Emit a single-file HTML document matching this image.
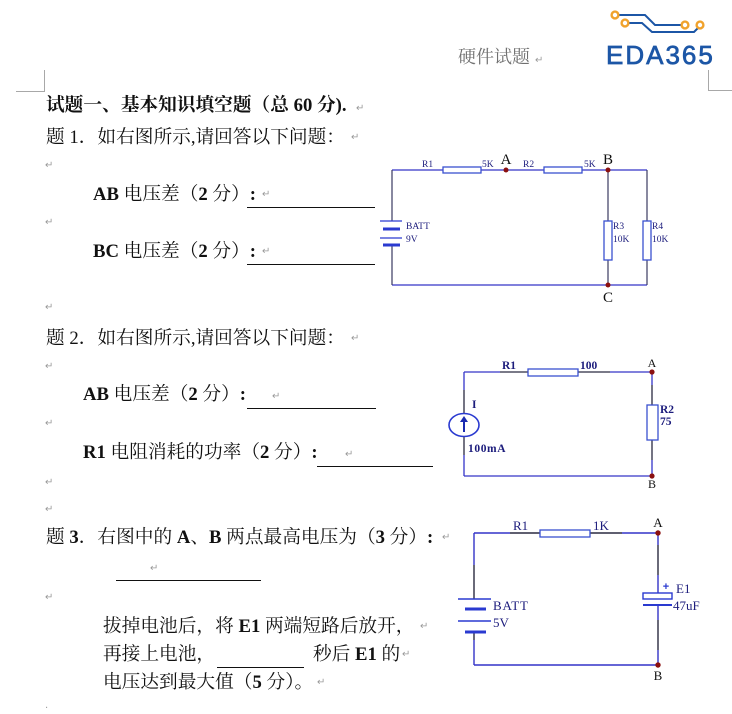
<!DOCTYPE html>
<html><head><meta charset="utf-8">
<style>
html,body{margin:0;padding:0;background:#fff;}
body{width:732px;height:711px;position:relative;overflow:hidden;font-family:"Liberation Serif","Noto Serif CJK SC",serif;color:#111;}
.t{position:absolute;white-space:pre;font-size:18.7px;line-height:18.7px;}
.b{font-weight:bold;}
.r{position:absolute;font-family:"DejaVu Sans",sans-serif;font-size:10px;line-height:10px;color:#9a9a9a;}
.u{position:absolute;height:1px;background:#111;}
svg{position:absolute;left:0;top:0;}
</style></head><body>

<svg width="732" height="711" viewBox="0 0 732 711" xmlns="http://www.w3.org/2000/svg">
  <!-- corner marks -->
  <g stroke="#a8a8a8" stroke-width="1" fill="none">
    <polyline points="44.5,70 44.5,91.5 16,91.5"/>
    <polyline points="708.5,70 708.5,90.5 732,90.5"/>
  </g>
  <!-- logo -->
  <g fill="none" stroke="#1c56a6" stroke-width="2">
    <polyline points="619,15 645,15 655,25 681,25"/>
    <polyline points="629,23 642,23 652,32 694,32 698,28"/>
  </g>
  <g fill="#fff" stroke="#f0a22c" stroke-width="2.4">
    <circle cx="615" cy="15" r="3.4"/>
    <circle cx="625" cy="23" r="3.4"/>
    <circle cx="685" cy="25" r="3.4"/>
    <circle cx="700" cy="25" r="3.4"/>
  </g>
  <text x="606" y="64" font-family="Liberation Sans, sans-serif" font-size="26" letter-spacing="2" fill="#1c56a6" stroke="#1c56a6" stroke-width="0.7">EDA365</text>

  <!-- Circuit 1 -->
  <g stroke="#3434c8" stroke-width="1.2" fill="none">
    <line x1="392" y1="170" x2="443" y2="170"/>
    <line x1="481" y1="170" x2="544" y2="170"/>
    <line x1="582" y1="170" x2="647" y2="170"/>
    <line x1="392" y1="285" x2="647" y2="285"/>
  </g>
  <g stroke="#3a3a60" stroke-width="1.2" fill="none">
    <line x1="392" y1="170" x2="392" y2="221"/>
    <line x1="392" y1="245" x2="392" y2="285"/>
    <line x1="608" y1="170" x2="608" y2="221"/>
    <line x1="608" y1="260" x2="608" y2="285"/>
    <line x1="647" y1="170" x2="647" y2="221"/>
    <line x1="647" y1="260" x2="647" y2="285"/>
  </g>
  <g stroke="#3a50d0" stroke-width="1.3" fill="#fff">
    <rect x="443" y="167" width="38" height="6"/>
    <rect x="544" y="167" width="38" height="6"/>
    <rect x="604" y="221" width="8" height="39"/>
    <rect x="643" y="221" width="8" height="39"/>
  </g>
  <g stroke="#2a3ad0" fill="none">
    <line x1="380" y1="221" x2="402" y2="221" stroke-width="1.3"/>
    <line x1="383" y1="229" x2="400" y2="229" stroke-width="3"/>
    <line x1="380" y1="238" x2="402" y2="238" stroke-width="1.3"/>
    <line x1="383" y1="245" x2="400" y2="245" stroke-width="3"/>
  </g>
  <g fill="#8b1010">
    <circle cx="506" cy="170" r="2.5"/>
    <circle cx="608" cy="170" r="2.5"/>
    <circle cx="608" cy="285" r="2.5"/>
  </g>
  <g font-family="Liberation Serif, serif" font-size="9.5" fill="#1c1c7c">
    <text x="422" y="167">R1</text>
    <text x="482" y="167">5K</text>
    <text x="523" y="167">R2</text>
    <text x="584" y="167">5K</text>
    <text x="406" y="229">BATT</text>
    <text x="406" y="242">9V</text>
    <text x="613" y="229">R3</text>
    <text x="613" y="242">10K</text>
    <text x="652" y="229">R4</text>
    <text x="652" y="242">10K</text>
  </g>
  <g font-family="Liberation Serif, serif" font-size="15" fill="#111" text-anchor="middle">
    <text x="506" y="164">A</text>
    <text x="608" y="164">B</text>
    <text x="608" y="302">C</text>
  </g>

  <!-- Circuit 2 -->
  <g stroke="#3434c8" stroke-width="1.3" fill="none">
    <line x1="464" y1="372" x2="500" y2="372"/>
    <line x1="610" y1="372" x2="652" y2="372"/>
    <line x1="464" y1="476" x2="652" y2="476"/>
    <line x1="464" y1="372" x2="464" y2="390"/>
    <line x1="464" y1="455" x2="464" y2="476"/>
    <line x1="652" y1="372" x2="652" y2="385"/>
    <line x1="652" y1="460" x2="652" y2="476"/>
  </g>
  <g stroke="#2a2a40" stroke-width="1.3" fill="none">
    <line x1="500" y1="372" x2="528" y2="372"/>
    <line x1="578" y1="372" x2="610" y2="372"/>
    <line x1="464" y1="390" x2="464" y2="413"/>
    <line x1="464" y1="437" x2="464" y2="455"/>
    <line x1="652" y1="385" x2="652" y2="405"/>
    <line x1="652" y1="440" x2="652" y2="460"/>
  </g>
  <g stroke="#3a50d0" stroke-width="1.3" fill="#fff">
    <rect x="528" y="369" width="50" height="7"/>
    <rect x="647" y="405" width="11" height="35"/>
  </g>
  <ellipse cx="464" cy="425" rx="15" ry="11.5" fill="none" stroke="#2a3ad0" stroke-width="1.6"/>
  <line x1="464" y1="432" x2="464" y2="421" stroke="#1a2ab0" stroke-width="2"/>
  <polygon points="464,416 460,422 468,422" fill="#1a2ab0"/>
  <g fill="#8b1010">
    <circle cx="652" cy="372" r="2.6"/>
    <circle cx="652" cy="476" r="2.6"/>
  </g>
  <g font-family="Liberation Serif, serif" font-size="11.5" font-weight="bold" fill="#1c1c7c">
    <text x="502" y="369">R1</text>
    <text x="580" y="369">100</text>
    <text x="472" y="408">I</text>
    <text x="468" y="452" letter-spacing="0.6">100mA</text>
    <text x="660" y="413">R2</text>
    <text x="660" y="425">75</text>
  </g>
  <g font-family="Liberation Serif, serif" font-size="12" fill="#111" text-anchor="middle">
    <text x="652" y="367">A</text>
    <text x="652" y="488">B</text>
  </g>

  <!-- Circuit 3 -->
  <g stroke="#3434c8" stroke-width="1.4" fill="none">
    <line x1="474" y1="533" x2="510" y2="533"/>
    <line x1="622" y1="533" x2="658" y2="533"/>
    <line x1="474" y1="665" x2="658" y2="665"/>
    <line x1="474" y1="533" x2="474" y2="565"/>
    <line x1="474" y1="640" x2="474" y2="665"/>
    <line x1="658" y1="533" x2="658" y2="545"/>
    <line x1="658" y1="575" x2="658" y2="593"/>
    <line x1="658" y1="605" x2="658" y2="620"/>
    <line x1="658" y1="650" x2="658" y2="665"/>
  </g>
  <g stroke="#2a2a40" stroke-width="1.4" fill="none">
    <line x1="510" y1="533" x2="540" y2="533"/>
    <line x1="590" y1="533" x2="622" y2="533"/>
    <line x1="474" y1="565" x2="474" y2="599"/>
    <line x1="474" y1="632" x2="474" y2="640"/>
    <line x1="658" y1="545" x2="658" y2="575"/>
    <line x1="658" y1="620" x2="658" y2="650"/>
  </g>
  <rect x="540" y="530" width="50" height="7" stroke="#3a50d0" stroke-width="1.3" fill="#fff"/>
  <g stroke="#2a3ad0" fill="none">
    <line x1="458" y1="599" x2="491" y2="599" stroke-width="1.4"/>
    <line x1="465" y1="609" x2="486" y2="609" stroke-width="3"/>
    <line x1="458" y1="621" x2="491" y2="621" stroke-width="1.4"/>
    <line x1="465" y1="632" x2="486" y2="632" stroke-width="3"/>
    <line x1="643" y1="605" x2="672" y2="605" stroke-width="2"/>
  </g>
  <rect x="643" y="593" width="29" height="6" stroke="#2a3ad0" stroke-width="1.4" fill="#fff"/>
  <text x="666" y="590" font-family="Liberation Sans, sans-serif" font-size="11" font-weight="bold" fill="#2a3ad0" text-anchor="middle">+</text>
  <g fill="#8b1010">
    <circle cx="658" cy="533" r="2.7"/>
    <circle cx="658" cy="665" r="2.7"/>
  </g>
  <g font-family="Liberation Serif, serif" font-size="13" fill="#1c1c7c">
    <text x="513" y="530">R1</text>
    <text x="593" y="530">1K</text>
    <text x="493" y="610" letter-spacing="0.8">BATT</text>
    <text x="493" y="627">5V</text>
    <text x="676" y="593">E1</text>
    <text x="673" y="610">47uF</text>
  </g>
  <g font-family="Liberation Serif, serif" font-size="13" fill="#111" text-anchor="middle">
    <text x="658" y="527">A</text>
    <text x="658" y="680">B</text>
  </g>
</svg>

<!-- header -->
<div class="t" style="left:458px;top:48px;color:#707070;font-size:18px;line-height:18px;">硬件试题</div>
<div class="r" style="left:535px;top:56px;">↵</div>

<!-- text -->
<div class="t b" style="left:46px;top:97px;">试题一、基本知识填空题（总 60 分).</div>
<div class="r" style="left:356px;top:104px;">↵</div>

<div class="t" style="left:46px;top:129px;">题 1．如右图所示,请回答以下问题：</div>
<div class="r" style="left:351px;top:133px;">↵</div>
<div class="r" style="left:45px;top:161px;">↵</div>

<div class="t" style="left:93px;top:186px;"><span class="b">AB</span> 电压差（<span class="b">2</span> 分）<span class="b">:</span></div>
<div class="r" style="left:262px;top:190px;">↵</div>
<div class="u" style="left:247px;top:207px;width:128px;"></div>
<div class="r" style="left:45px;top:218px;">↵</div>

<div class="t" style="left:93px;top:243px;"><span class="b">BC</span> 电压差（<span class="b">2</span> 分）<span class="b">:</span></div>
<div class="r" style="left:262px;top:247px;">↵</div>
<div class="u" style="left:247px;top:264px;width:128px;"></div>
<div class="r" style="left:45px;top:303px;">↵</div>

<div class="t" style="left:46px;top:330px;">题 2．如右图所示,请回答以下问题：</div>
<div class="r" style="left:351px;top:334px;">↵</div>
<div class="r" style="left:45px;top:362px;">↵</div>

<div class="t" style="left:83px;top:386px;"><span class="b">AB</span> 电压差（<span class="b">2</span> 分）<span class="b">:</span></div>
<div class="r" style="left:272px;top:392px;">↵</div>
<div class="u" style="left:247px;top:408px;width:129px;"></div>
<div class="r" style="left:45px;top:419px;">↵</div>

<div class="t" style="left:83px;top:444px;"><span class="b">R1</span> 电阻消耗的功率（<span class="b">2</span> 分）<span class="b">:</span></div>
<div class="r" style="left:345px;top:450px;">↵</div>
<div class="u" style="left:317px;top:466px;width:116px;"></div>
<div class="r" style="left:45px;top:478px;">↵</div>
<div class="r" style="left:45px;top:505px;">↵</div>

<div class="t" style="left:46px;top:529px;">题 <span class="b">3</span>．右图中的 <span class="b">A</span>、<span class="b">B</span> 两点最高电压为（<span class="b">3</span> 分）<span class="b">:</span></div>
<div class="r" style="left:442px;top:533px;">↵</div>
<div class="r" style="left:150px;top:564px;">↵</div>
<div class="u" style="left:116px;top:580px;width:145px;"></div>
<div class="r" style="left:45px;top:593px;">↵</div>

<div class="t" style="left:103px;top:618px;">拔掉电池后，将 <span class="b">E1</span> 两端短路后放开，</div>
<div class="r" style="left:420px;top:622px;">↵</div>
<div class="t" style="left:103px;top:646px;">再接上电池，</div>
<div class="u" style="left:217px;top:667px;width:87px;"></div>
<div class="t" style="left:313px;top:646px;">秒后 <span class="b">E1</span> 的</div>
<div class="r" style="left:402px;top:650px;">↵</div>
<div class="t" style="left:103px;top:674px;">电压达到最大值（<span class="b">5</span> 分）。</div>
<div class="r" style="left:317px;top:678px;">↵</div>
<div class="r" style="left:45px;top:704px;">·</div>

</body></html>
